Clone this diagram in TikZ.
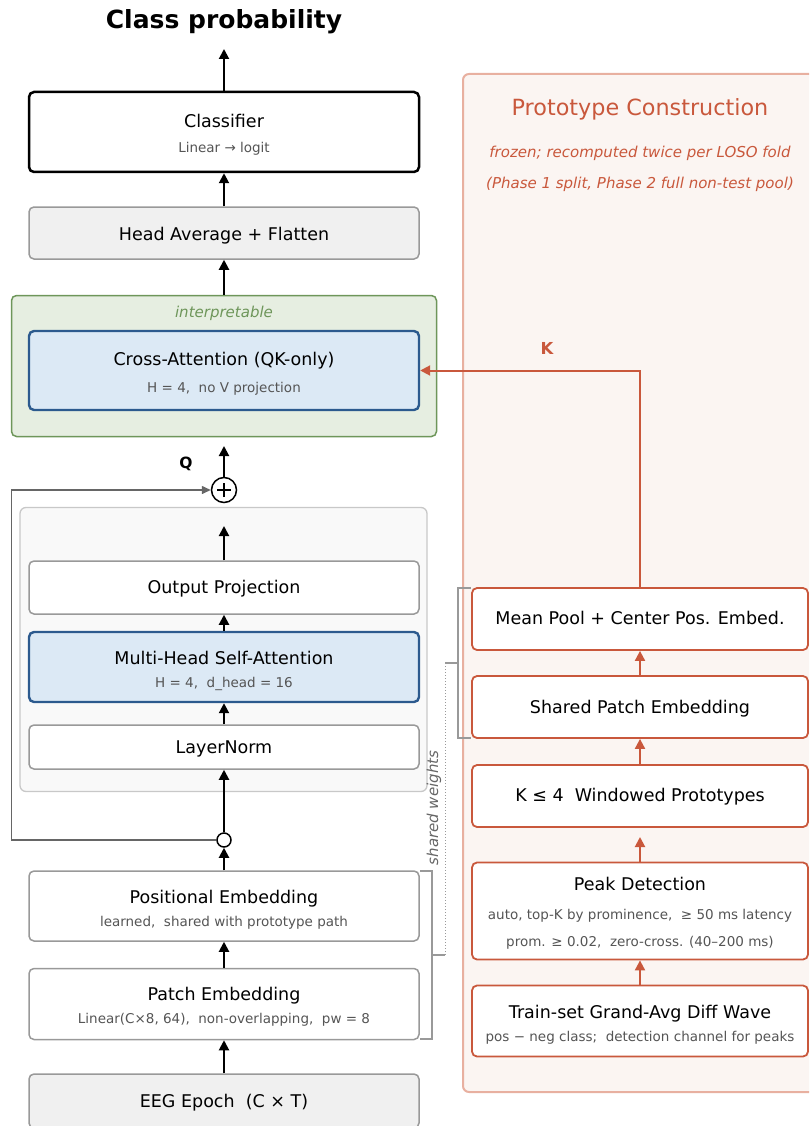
\documentclass[tikz,border=0pt]{standalone}
\usepackage{fontspec}
\setmainfont{DejaVu Sans}
\usetikzlibrary{arrows.meta}

\definecolor{protoorange}{RGB}{201,88,60}
\definecolor{protoedge}{RGB}{232,176,160}
\definecolor{protofill}{RGB}{251,245,242}
\definecolor{interpfill}{RGB}{230,238,225}
\definecolor{interpedge}{RGB}{110,150,90}
\definecolor{attnfill}{RGB}{220,233,245}
\definecolor{attnedge}{RGB}{44,90,142}
\definecolor{boxgray}{RGB}{153,153,153}
\definecolor{inputfill}{RGB}{240,240,240}
\definecolor{encfill}{RGB}{249,249,249}
\definecolor{encedge}{RGB}{200,200,200}
\definecolor{subgray}{RGB}{85,85,85}

\begin{document}
\begin{tikzpicture}[x=1pt, y=-1pt,
    blk/.style={draw=boxgray, line width=1.5pt, rounded corners=5pt, fill=white,
                minimum width=390pt, inner sep=0pt},
    attnblk/.style={blk, draw=attnedge, line width=2.4pt, fill=attnfill},
    protoblk/.style={blk, draw=protoorange, line width=1.8pt, minimum width=336pt},
    maintxt/.style={font=\fontsize{17.5}{20}\selectfont, anchor=base, inner sep=0pt},
    subtxt/.style={font=\fontsize{13.5}{16}\selectfont, text=subgray, anchor=base, inner sep=0pt},
    notetxt/.style={font=\fontsize{15}{18}\selectfont\itshape, anchor=base},
    arr/.style={-{Triangle[length=10pt,width=10pt]}, line width=2pt},
    parr/.style={arr, draw=protoorange, line width=2pt},
    brk/.style={draw=boxgray, line width=1.3pt},
]
    \useasboundingbox (0,0) rectangle (809,1126);
    \clip (0,0) rectangle (809,1126);

    % === Prototype path (background) ===
    \node[draw=protoedge, line width=2pt, fill=protofill, rounded corners=6pt,
          minimum width=360pt, minimum height=1018pt, inner sep=0pt] (protobg) at (643,583) {};
    \node[font=\fontsize{22.3}{26}\selectfont, text=protoorange, anchor=base] (protoT) at (640,116) {Prototype Construction};
    \node[notetxt, text=protoorange] (protoS1) at (640,158) {frozen; recomputed twice per LOSO fold};
    \node[notetxt, text=protoorange] (protoS2) at (640,189) {(Phase 1 split, Phase 2 full non-test pool)};

    % === Title ===
    \node[font=\fontsize{25}{30}\selectfont\bfseries, anchor=base] (title) at (224,29) {Class probability};
    \coordinate (titletip) at (224,49);

    % Classifier
    \node[blk, draw=black, line width=2.5pt, minimum height=80pt] (cls) at (224,132) {};
    \node[maintxt] (clsT) at (224,128) {Classifier};
    \node[subtxt] (clsS) at (224,153) {Linear → logit};

    % Head average
    \node[blk, fill=inputfill, minimum height=52pt] (head) at (224,233) {};
    \node[maintxt] (headT) at (224,240) {Head Average + Flatten};

    % === Interpretable cross-attention ===
    \node[draw=interpedge, line width=1.5pt, fill=interpfill, rounded corners=5pt,
          minimum width=425pt, minimum height=141pt, inner sep=0pt] (interp) at (224,366) {};
    \node[notetxt, text=interpedge] (interpT) at (224,317) {interpretable};
    \node[attnblk, minimum height=79pt] (cross) at (224,370.5) {};
    \node[maintxt] (crossT) at (224,365) {Cross-Attention (QK-only)};
    \node[subtxt] (crossS) at (224,392) {H = 4,\ \ no V projection};

    % Residual sum
    \node[draw, circle, line width=1.5pt, minimum size=25pt, inner sep=0pt, fill=white] (plus) at (224,490) {};
    \draw[line width=1.5pt] ([yshift=-7pt]plus.center) -- ([yshift=7pt]plus.center)
                            ([xshift=-7pt]plus.center) -- ([xshift=7pt]plus.center);
    \coordinate (qtip) at (224,446);
    \node[font=\fontsize{15.5}{18}\selectfont\bfseries, anchor=base] (qlab) at (186,468) {Q};

    % === Encoder block ===
    \node[draw=encedge, line width=1.3pt, fill=encfill, rounded corners=6pt,
          minimum width=407pt, minimum height=284pt, inner sep=0pt] (enc) at (223.5,649.5) {};
    \coordinate (optip) at (224,526);
    \node[blk, minimum height=53pt] (outp) at (224,587.5) {};
    \node[maintxt] (outpT) at (224,593) {Output Projection};
    \node[attnblk, minimum height=70pt] (mhsa) at (224,667) {};
    \node[maintxt] (mhsaT) at (224,664) {Multi-Head Self-Attention};
    \node[subtxt] (mhsaS) at (224,687) {H = 4,\ \ d\_head = 16};
    \node[blk, minimum height=44pt] (ln) at (224,747) {};
    \node[maintxt] (lnT) at (224,753) {LayerNorm};

    % Split point
    \node[draw, circle, line width=1.5pt, minimum size=14pt, inner sep=0pt, fill=white] (split) at (224,840) {};
    \coordinate (resL) at (11.7,840);

    % === Embeddings ===
    \node[blk, minimum height=70pt] (pos) at (224,906) {};
    \node[maintxt] (posT) at (224,903) {Positional Embedding};
    \node[subtxt] (posS) at (224,926) {learned,\ \ shared with prototype path};
    \node[blk, minimum height=71pt] (patch) at (224,1004) {};
    \node[maintxt] (patchT) at (224,1000) {Patch Embedding};
    \node[subtxt] (patchS) at (224,1023) {Linear(C×8, 64),\ \ non-overlapping,\ \ pw = 8};
    \node[blk, fill=inputfill, minimum height=54pt] (eeg) at (224,1101) {};
    \node[maintxt] (eegT) at (224,1107) {EEG Epoch\ \ (C × T)};

    % === Prototype blocks ===
    \node[protoblk, minimum height=62pt] (mean) at (640,619) {};
    \node[maintxt] (meanT) at (640,624) {Mean Pool + Center Pos. Embed.};
    \node[protoblk, minimum height=62pt] (spe) at (640,707) {};
    \node[maintxt] (speT) at (640,713) {Shared Patch Embedding};
    \node[protoblk, minimum height=62pt] (kwin) at (640,796) {};
    \node[maintxt] (kwinT) at (640,801) {K ≤ 4\ \ Windowed Prototypes};
    \coordinate (ktip) at (640,837);
    \node[protoblk, minimum height=97pt] (peak) at (640,911) {};
    \node[maintxt] (peakT) at (640,890) {Peak Detection};
    \node[subtxt] (peakS1) at (640,919) {auto, top-K by prominence,\ \ ≥ 50 ms latency};
    \node[subtxt] (peakS2) at (640,946) {prom. ≥ 0.02,\ \ zero-cross. (40–200 ms)};
    \node[protoblk, minimum height=71pt] (wave) at (640,1021) {};
    \node[maintxt] (waveT) at (640,1018) {Train-set Grand-Avg Diff Wave};
    \node[subtxt] (waveS) at (640,1041) {pos − neg class;\ \ detection channel for peaks};
    \node[font=\fontsize{16.5}{19}\selectfont\bfseries, text=protoorange, anchor=base] (klab) at (547,354) {K};

    % Frecce
    \draw[arr] (cls.north) -- (titletip);
    \draw[arr] (head.north) -- (cls.south);
    \draw[arr] (interp.north) -- (head.south);
    \draw[arr] (plus.north) -- (qtip);
    \draw[arr] (outp.north) -- (optip);
    \draw[arr] (mhsa.north) -- (outp.south);
    \draw[arr] (ln.north) -- (mhsa.south);
    \draw[arr] (split.north) -- (ln.south);
    \draw[arr] (pos.north) -- (split.south);
    \draw[arr] (patch.north) -- (pos.south);
    \draw[arr] (eeg.north) -- (patch.south);
    \draw[-{Triangle[length=9pt,width=8pt]}, draw=black!60, line width=1.5pt]
        (split.west) -- (resL) |- (plus.west);

    \draw[parr] (wave.north) -- (peak.south);
    \draw[parr] (peak.north) -- (ktip);
    \draw[parr] (kwin.north) -- (spe.south);
    \draw[parr] (spe.north) -- (mean.south);
    \draw[parr] (mean.north) |- (cross.east);

    % Shared weights
    \draw[brk] (420,871) -- (432,871) -- (432,1039) -- (420,1039);
    \draw[brk] (432,955) -- (445,955);
    \draw[brk] (471,588) -- (458,588) -- (458,738) -- (471,738);
    \draw[brk] (458,663) -- (445,663);
    \draw[draw=boxgray, line width=1pt, dotted] (445,663) -- (445,955);
    \node[font=\fontsize{15}{18}\selectfont\itshape, text=black!60, rotate=90] (shared) at (434,808) {shared weights};

\end{tikzpicture}
\end{document}
